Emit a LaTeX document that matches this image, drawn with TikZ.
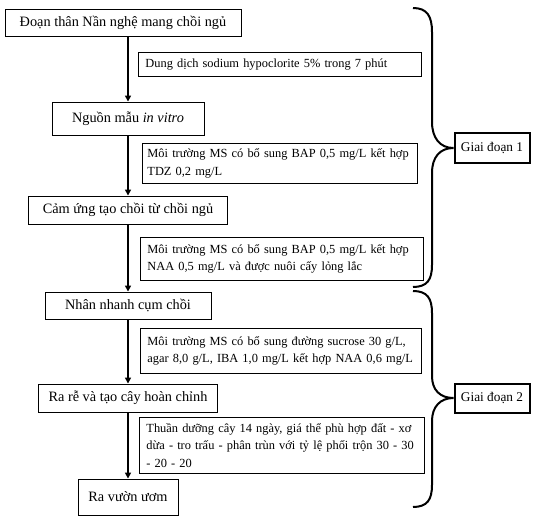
\documentclass[tikz,border=0pt]{standalone}
\usepackage{fontspec}
\setmainfont{Liberation Serif}
\usetikzlibrary{arrows.meta}
\tikzset{
  stage/.style={draw, line width=0.9pt, inner sep=0pt, font=\fontsize{14.3}{17}\selectfont},
  cond/.style={draw, line width=0.9pt, anchor=north west, align=left,
    inner xsep=7pt, inner ysep=0pt, font=\fontsize{12.4}{17.3}\selectfont},
  phase/.style={draw, line width=2pt, inner sep=0pt,
    minimum width=75pt, minimum height=29pt, font=\fontsize{13.3}{16}\selectfont},
  flow/.style={-{Triangle[length=6pt,width=6pt]}, line width=2.4pt},
  curly/.style={line width=2pt}
}
\begin{document}
\begin{tikzpicture}[x=1pt, y=-1pt]
  \useasboundingbox (0,0) rectangle (547,519);
  % left column: steps
  \node[stage, minimum width=236pt, minimum height=27pt] (start) at (123,22.5) {Đoạn thân Nần nghệ mang chồi ngủ};
  \node[stage, minimum width=152pt, minimum height=33pt] (source) at (128,118.5) {Nguồn mẫu \textit{in vitro}};
  \node[stage, minimum width=199pt, minimum height=28pt] (induce) at (128,210) {Cảm ứng tạo chồi từ chồi ngủ};
  \node[stage, minimum width=166pt, minimum height=27pt] (multiply) at (128,305.5) {Nhân nhanh cụm chồi};
  \node[stage, minimum width=179pt, minimum height=28pt] (root) at (128,398) {Ra rễ và tạo cây hoàn chỉnh};
  \node[stage, minimum width=100pt, minimum height=36pt] (nursery) at (128,497) {Ra vườn ươm};
  % conditions
  \node[cond, text width=269pt, minimum height=24pt] (sterile) at (138,52) {Dung dịch sodium hypoclorite 5\% trong 7 phút};
  \node[cond, inner xsep=5pt, text width=265pt, minimum height=40pt] (mediumA) at (142,143) {Môi trường MS có bổ sung BAP 0,5 mg/L kết hợp\\TDZ 0,2 mg/L};
  \node[cond, text width=269pt, minimum height=43pt] (mediumB) at (140,237) {Môi trường MS có bổ sung BAP 0,5 mg/L kết hợp\\NAA 0,5 mg/L và được nuôi cấy lỏng lắc};
  \node[cond, text width=267pt, minimum height=45pt] (mediumC) at (140,328) {Môi trường MS có bổ sung đường sucrose 30 g/L,\\agar 8,0 g/L, IBA 1,0 mg/L kết hợp NAA 0,6 mg/L};
  \node[cond, text width=271pt, minimum height=56pt] (harden) at (139,417) {Thuần dưỡng cây 14 ngày, giá thể phù hợp đất - xơ\\dừa - tro trấu - phân trùn với tỷ lệ phối trộn 30 - 30\\- 20 - 20};
  % arrows
  \draw[flow] (start.south -| source.north) -- (source.north);
  \draw[flow] (source.south) -- (induce.north);
  \draw[flow] (induce.south) -- (multiply.north);
  \draw[flow] (multiply.south) -- (root.north);
  \draw[flow] (root.south) -- (nursery.north);
  % phases
  \node[phase] (phaseA) at (492,148) {Giai đoạn 1};
  \node[phase] (phaseB) at (492,398) {Giai đoạn 2};
  \draw[curly] (413,8) .. controls (427,8) and (432,16) .. (432,32) -- (432,122)
    .. controls (432,138) and (440,148) .. (phaseA.west)
    .. controls (440,148) and (432,157) .. (432,173) -- (432,265)
    .. controls (432,280) and (427,287) .. (413,287);
  \draw[curly] (413,291) .. controls (427,291) and (432,298) .. (432,313) -- (432,376)
    .. controls (432,390) and (440,398) .. (phaseB.west)
    .. controls (440,398) and (432,407) .. (432,421) -- (432,485)
    .. controls (432,500) and (427,507) .. (413,507);
\end{tikzpicture}
\end{document}
